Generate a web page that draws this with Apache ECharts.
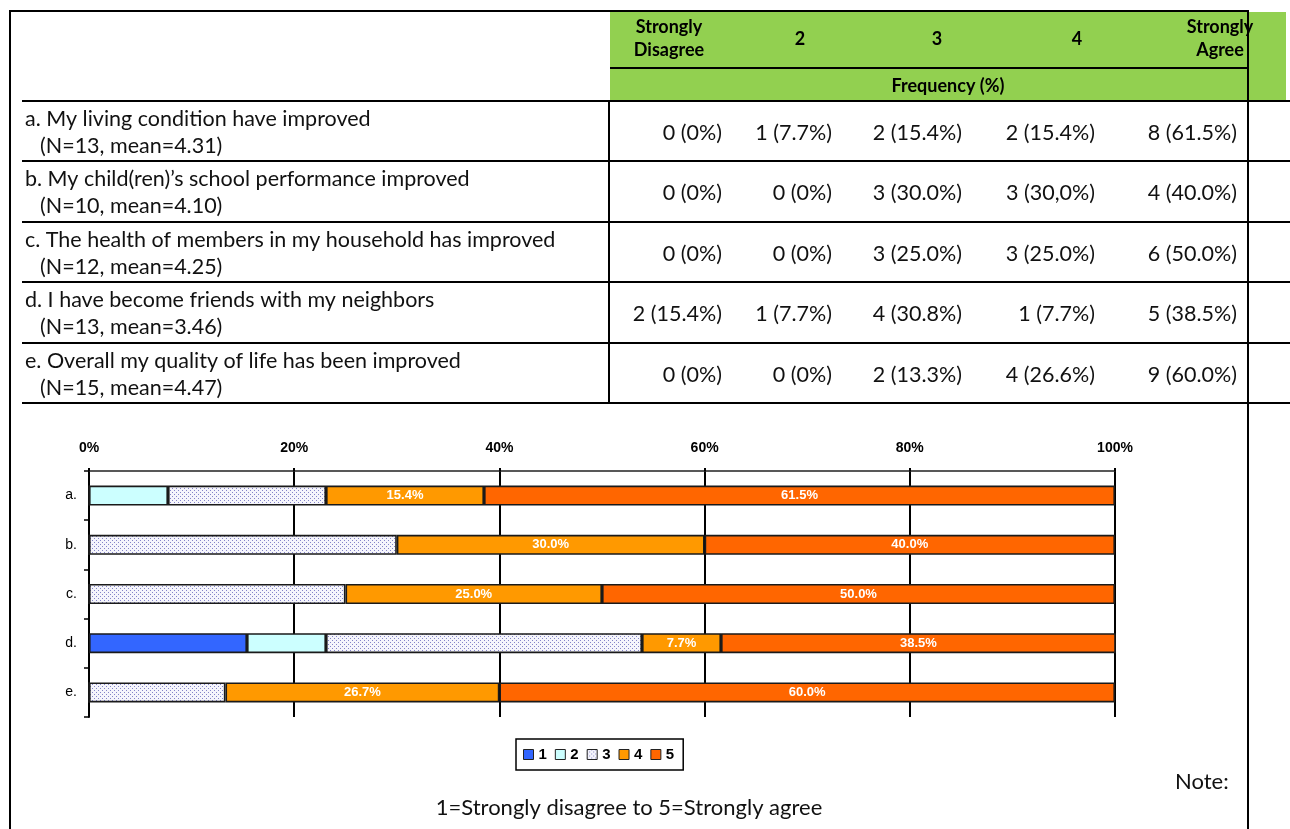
<!DOCTYPE html>
<html>
<head>
<meta charset="utf-8">
<title>Perceived changes</title>
<script src="https://cdn.jsdelivr.net/npm/echarts@6/dist/echarts.min.js"></script>
<style>
  html, body { margin: 0; padding: 0; background: #fff; }
  #main { width: 1290px; height: 829px; }
</style>
</head>
<body>
<div id="main"></div>
<script>
// ---- data ----
const categories = ['a.', 'b.', 'c.', 'd.', 'e.'];
const seriesNames = ['1', '2', '3', '4', '5'];
const pct1 = [0, 0, 0, 15.4, 0];
const pct2 = [7.7, 0, 0, 7.7, 0];
const pct3 = [15.4, 30.0, 25.0, 30.8, 13.3];
const pct4 = [15.4, 30.0, 25.0, 7.7, 26.7];
const pct5 = [61.5, 40.0, 50.0, 38.5, 60.0];
const axisTicks = [0, 20, 40, 60, 80, 100];

const headerLabels = ['Strongly\nDisagree', '2', '3', '4', 'Strongly\nAgree'];
const itemLines = [
  ['a. My living condition have improved', '(N=13, mean=4.31)'],
  ['b. My child(ren)\u2019s school performance improved', '(N=10, mean=4.10)'],
  ['c. The health of members in my household has improved', '(N=12, mean=4.25)'],
  ['d. I have become friends with my neighbors', '(N=13, mean=3.46)'],
  ['e. Overall my quality of life has been improved', '(N=15, mean=4.47)']
];
const freqRowA = ['0 (0%)', '1 (7.7%)', '2 (15.4%)', '2 (15.4%)', '8 (61.5%)'];
const freqRowB = ['0 (0%)', '0 (0%)', '3 (30.0%)', '3 (30,0%)', '4 (40.0%)'];
const freqRowC = ['0 (0%)', '0 (0%)', '3 (25.0%)', '3 (25.0%)', '6 (50.0%)'];
const freqRowD = ['2 (15.4%)', '1 (7.7%)', '4 (30.8%)', '1 (7.7%)', '5 (38.5%)'];
const freqRowE = ['0 (0%)', '0 (0%)', '2 (13.3%)', '4 (26.6%)', '9 (60.0%)'];
const freqRows = [freqRowA, freqRowB, freqRowC, freqRowD, freqRowE];

// ---- styling ----
const TXT = 'Lato, "Open Sans", sans-serif';
const ARIAL = '"Liberation Sans", Arial, sans-serif';
const GREEN = '#92D050';

// dotted fill used for the "3" series
function dotPattern() {
  const c = document.createElement('canvas');
  c.width = 4; c.height = 4;
  const g = c.getContext('2d');
  g.fillStyle = '#f5f5fc';
  g.fillRect(0, 0, 4, 4);
  g.fillStyle = '#8484c8';
  g.fillRect(0, 0, 1, 1);
  g.fillRect(2, 2, 1, 1);
  return c;
}
const seriesColors = ['#3366FF', '#CCFFFF', { image: dotPattern(), repeat: 'repeat' }, '#FF9900', '#FF6600'];
const seriesData = [pct1, pct2, pct3, pct4, pct5];

// ---- table drawn with graphic elements ----
const g = [];
function line(x1, y1, x2, y2, w) {
  g.push({ type: 'line', z: 10, silent: true,
    shape: { x1: x1, y1: y1, x2: x2, y2: y2 },
    style: { stroke: '#000', lineWidth: w || 2 } });
}
function text(t, x, y, font, align, color, lh) {
  g.push({ type: 'text', z: 20, silent: true,
    style: { text: t, x: x, y: y, font: font, fill: color || '#000',
      align: align || 'left', textAlign: align || 'left',
      verticalAlign: 'middle', textVerticalAlign: 'middle', lineHeight: lh || 24 } });
}

// header band
g.push({ type: 'rect', z: 1, silent: true, shape: { x: 610, y: 12, width: 676, height: 89 }, style: { fill: GREEN } });

const colCenters = [669, 800, 937, 1077, 1220];
const colRight = [722, 832, 962, 1095, 1237];
const rowTop = 101, rowH = 60.4;

headerLabels.forEach(function (h, i) {
  text(h, colCenters[i], 39, 'bold 18px ' + TXT, 'center', '#000', 23);
});
text('Frequency (%)', 948, 86, 'bold 18px ' + TXT, 'center');

itemLines.forEach(function (ln, r) {
  const y0 = rowTop + r * rowH;
  text(ln[0], 25, y0 + 18, '21.5px ' + TXT, 'left', '#111');
  text(ln[1], 40, y0 + 45, '21.5px ' + TXT, 'left', '#111');
  freqRows[r].forEach(function (v, c) {
    text(v, colRight[c], y0 + 32, '21.5px ' + TXT, 'right', '#111');
  });
});

// frame and rules
line(10, 11, 10, 829);
line(9, 11, 1249, 11);
line(1248, 11, 1248, 829);
line(610, 68, 1248, 68);
for (let r = 0; r <= 5; r++) {
  const y = Math.round(rowTop + r * rowH);
  line(22, y, 1290, y);
}
line(609, rowTop, 609, rowTop + 5 * rowH);

// notes below the chart
text('Note:', 1175, 782, '22px ' + TXT, 'left', '#111');
text('1=Strongly disagree to 5=Strongly agree', 629, 808, '22px ' + TXT, 'center', '#111');

// ---- chart ----
const chart = echarts.init(document.getElementById('main'), null, { renderer: 'canvas' });

const series = seriesNames.map(function (name, i) {
  const showLabel = i >= 3;
  return {
    name: name,
    type: 'bar',
    stack: 'total',
    barWidth: 20,
    data: seriesData[i],
    itemStyle: { color: seriesColors[i], borderColor: '#1a1a1a', borderWidth: 1.6 },
    label: {
      show: showLabel,
      position: 'inside',
      color: '#fff',
      fontFamily: ARIAL,
      fontWeight: 'bold',
      fontSize: 13,
      formatter: function (p) { return p.value.toFixed(1) + '%'; }
    },
    emphasis: { disabled: true }
  };
});

chart.setOption({
  animation: false,
  backgroundColor: '#fff',
  graphic: { elements: g },
  legend: {
    data: seriesNames,
    left: 516,
    top: 739,
    orient: 'horizontal',
    itemWidth: 10,
    itemHeight: 10,
    itemGap: 8,
    icon: 'rect',
    padding: [8, 9, 8, 7],
    borderColor: '#000',
    borderWidth: 1.5,
    backgroundColor: '#fff',
    textStyle: { fontFamily: ARIAL, fontWeight: 'bold', fontSize: 15, color: '#000' },
    itemStyle: { borderColor: '#222', borderWidth: 1 },
    selectedMode: false
  },
  grid: { left: 89, right: 175, top: 471, height: 246, containLabel: false },
  xAxis: {
    type: 'value',
    position: 'top',
    min: axisTicks[0],
    max: axisTicks[axisTicks.length - 1],
    interval: axisTicks[1] - axisTicks[0],
    axisLine: { show: true, lineStyle: { color: '#222', width: 1.5 } },
    axisTick: { show: true, length: 3, lineStyle: { color: '#000', width: 2 } },
    splitLine: { show: true, lineStyle: { color: '#000', width: 2 } },
    axisLabel: {
      margin: 16,
      formatter: '{value}%',
      fontFamily: ARIAL,
      fontWeight: 'bold',
      fontSize: 14,
      color: '#000'
    }
  },
  yAxis: {
    type: 'category',
    inverse: true,
    data: categories,
    axisLine: { show: true, lineStyle: { color: '#000', width: 2 } },
    axisTick: { show: true, length: 5, alignWithLabel: false, lineStyle: { color: '#000', width: 1.5 } },
    axisLabel: { margin: 12, fontFamily: ARIAL, fontSize: 14, color: '#000' },
    splitLine: { show: false }
  },
  series: series
});
</script>
</body>
</html>
